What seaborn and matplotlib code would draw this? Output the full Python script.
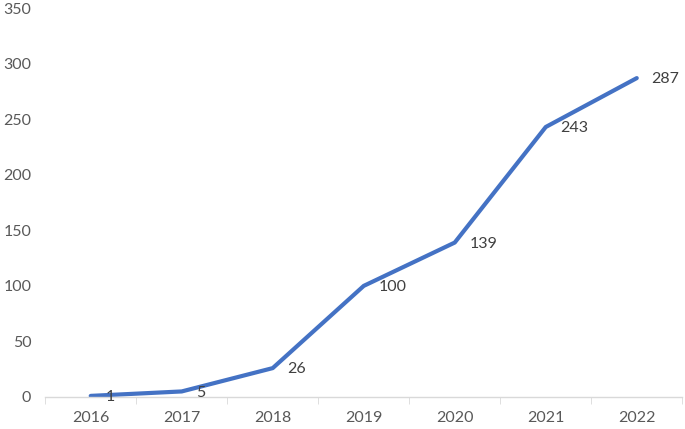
import matplotlib
matplotlib.use("Agg")
import matplotlib.pyplot as plt
import seaborn as sns
import pandas as pd
import numpy as np

years = ["2016", "2017", "2018", "2019", "2020", "2021", "2022"]
values = [1, 5, 26, 100, 139, 243, 287]

sns.set_style("white")
plt.rcParams["font.family"] = ["Lato", "DejaVu Sans"]

df = pd.DataFrame({"pos": np.arange(len(years)), "value": values})

fig = plt.figure(figsize=(6.85, 4.29), dpi=100)
ax = fig.add_axes([0.066, 0.0746, 0.93, 0.9065])

sns.lineplot(data=df, x="pos", y="value", ax=ax, color="#4472C4", linewidth=3)

for x, v in zip(df["pos"], df["value"]):
    ax.annotate(str(v), (x, v), xytext=(10.5, -1), textcoords="offset points",
                ha="left", va="center", fontsize=11.5, color="#404040")

ax.set_xlim(-0.5, len(years) - 0.5)
ax.set_ylim(0, 350)
ax.set_yticks(range(0, 351, 50))
ax.set_xticks(df["pos"])
ax.set_xticklabels(years)
ax.set_xticks(np.arange(-0.5, len(years), 1), minor=True)
ax.tick_params(axis="x", which="major", length=0, pad=10, labelsize=11.5, labelcolor="#595959")
ax.tick_params(axis="x", which="minor", length=5, color="#D9D9D9", direction="out", bottom=True)
ax.tick_params(axis="y", length=0, pad=10, labelsize=11.5, labelcolor="#595959")
ax.set_xlabel("")
ax.set_ylabel("")

for s in ["top", "right", "left"]:
    ax.spines[s].set_visible(False)
ax.spines["bottom"].set_color("#D9D9D9")
ax.spines["bottom"].set_linewidth(1)

fig.savefig("out.png", dpi=100)
